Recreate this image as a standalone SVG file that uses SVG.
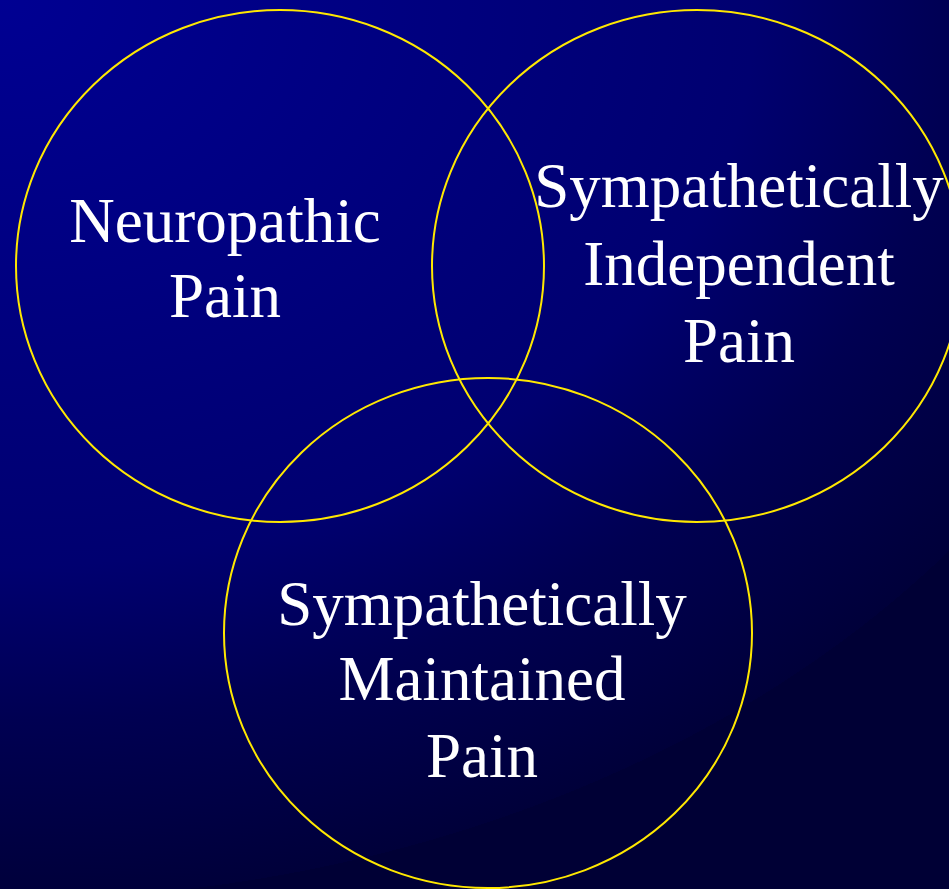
<svg xmlns="http://www.w3.org/2000/svg" width="949" height="889" viewBox="0 0 949 889">
<defs>
<radialGradient id="bg" gradientUnits="userSpaceOnUse" cx="0" cy="0" r="1" fx="0" fy="0" gradientTransform="scale(1200,900)">
<stop offset="0" stop-color="#000092"/>
<stop offset="0.63" stop-color="#000070"/>
<stop offset="0.8" stop-color="#000052"/>
<stop offset="1" stop-color="#00003A"/>
<stop offset="1.3" stop-color="#000035"/>
</radialGradient>
<style>
.ring{fill:none;stroke:#FFE800;stroke-width:2}
.lbl{font-family:"Liberation Serif","Times New Roman",serif;font-size:63px;fill:#FFFFFF;text-anchor:middle}
</style>
</defs>
<rect x="0" y="0" width="949" height="889" fill="url(#bg)"/>
<g id="connectors"></g>
<g id="neuropathic">
<ellipse class="ring" cx="280" cy="266" rx="264" ry="256"/>
<text class="lbl" x="225" y="242">Neuropathic</text>
<text class="lbl" x="225" y="317">Pain</text>
</g>
<g id="sip">
<ellipse class="ring" cx="697" cy="266" rx="265" ry="256"/>
<text class="lbl" x="739" y="207">Sympathetically</text>
<text class="lbl" x="739" y="285">Independent</text>
<text class="lbl" x="739" y="362">Pain</text>
</g>
<g id="smp">
<ellipse class="ring" cx="488" cy="633" rx="264" ry="255"/>
<text class="lbl" x="482" y="625">Sympathetically</text>
<text class="lbl" x="482" y="700">Maintained</text>
<text class="lbl" x="482" y="777">Pain</text>
</g>
</svg>
